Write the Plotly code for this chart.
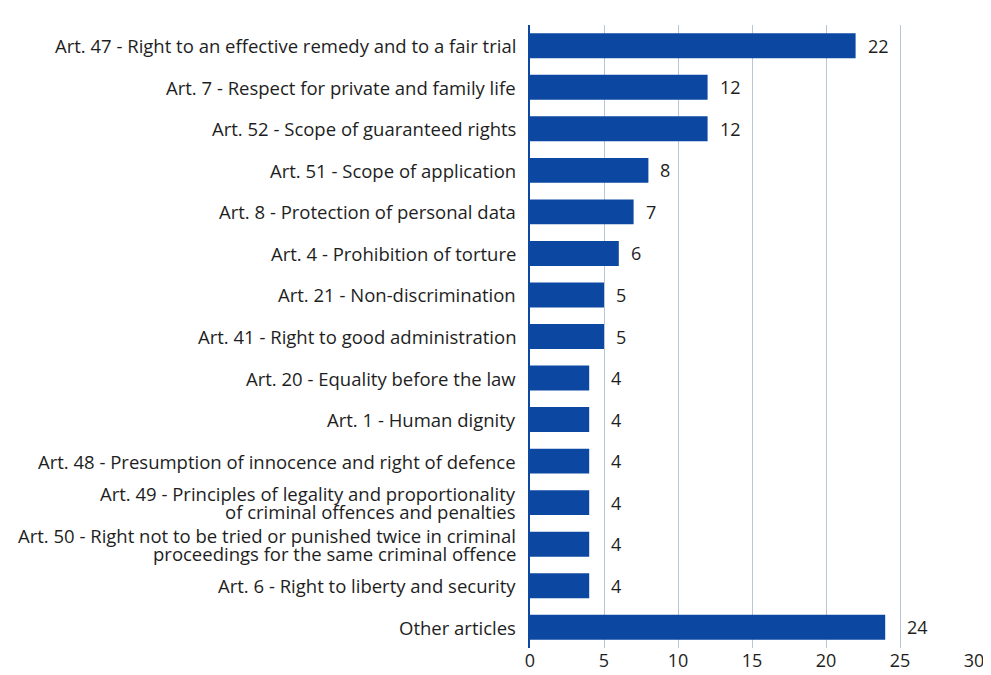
import math
import plotly.graph_objects as go

articles = [
    "Art. 47 - Right to an effective remedy and to a fair trial",
    "Art. 7 - Respect for private and family life",
    "Art. 52 - Scope of guaranteed rights",
    "Art. 51 - Scope of application",
    "Art. 8 - Protection of personal data",
    "Art. 4 - Prohibition of torture",
    "Art. 21 - Non-discrimination",
    "Art. 41 - Right to good administration",
    "Art. 20 - Equality before the law",
    "Art. 1 - Human dignity",
    "Art. 48 - Presumption of innocence and right of defence",
    "Art. 49 - Principles of legality and proportionality<br>of criminal offences and penalties",
    "Art. 50 - Right not to be tried or punished twice in criminal<br>proceedings for the same criminal offence",
    "Art. 6 - Right to liberty and security",
    "Other articles",
]
counts = [22, 12, 12, 8, 7, 6, 5, 5, 4, 4, 4, 4, 4, 4, 24]

bar_color = "#0c48a2"
text_color = "#1e1e1e"
grid_step = 5
line_gap = 18  # tighter line spacing for the two-line labels

fig = go.Figure()
fig.add_trace(go.Bar(x=counts, y=articles, orientation="h",
                     marker=dict(color=bar_color, line=dict(width=0)),
                     width=0.6, hoverinfo="x"))

for a, c in zip(articles, counts):
    # value label; if a gridline is right after the bar end, put it past the gridline
    nxt = math.ceil(c / grid_step) * grid_step
    if 0 < nxt - c <= 1.5:
        lx, shift = nxt, 5
    else:
        lx, shift = c, 10
    fig.add_annotation(x=lx, y=a, text=str(c), showarrow=False,
                       xanchor="left", xshift=shift,
                       font=dict(size=18, color=text_color))
    # category labels drawn as annotations so two-line ones sit tight
    lines = a.split("<br>")
    for i, ln in enumerate(lines):
        fig.add_annotation(x=0, y=a, text=ln, showarrow=False,
                           xanchor="right", xshift=-13, borderpad=0,
                           yshift=((len(lines) - 1) / 2 - i) * line_gap,
                           font=dict(size=18.5, color=text_color))

fig.update_layout(
    width=983, height=667,
    margin=dict(l=522, r=17, t=17, b=27),
    plot_bgcolor="white", paper_bgcolor="white",
    font=dict(family="Open Sans, sans-serif", size=18, color=text_color),
    showlegend=False,
)
fig.update_xaxes(range=[0, 30], dtick=grid_step, showgrid=True, gridcolor="#b9c5d9", gridwidth=1,
                 zeroline=False, ticks="", tickfont=dict(size=18, color=text_color),
                 automargin=False, fixedrange=True)
fig.update_yaxes(autorange="reversed", showline=True, linecolor=bar_color, linewidth=2,
                 ticks="", showticklabels=False,
                 automargin=False, fixedrange=True)

fig.write_html("out.html")
